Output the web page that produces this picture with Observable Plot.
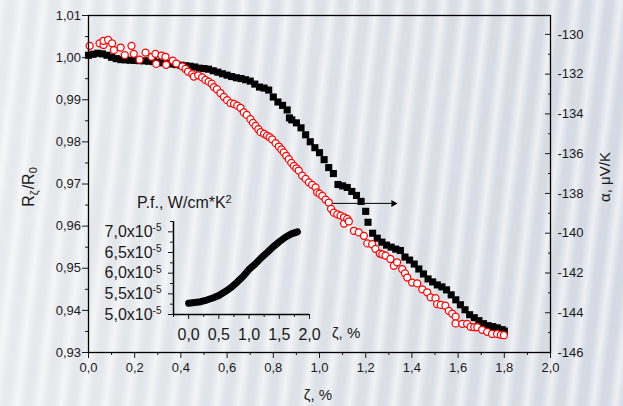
<!DOCTYPE html>
<html><head><meta charset="utf-8">
<script src="https://cdn.jsdelivr.net/npm/d3@7"></script>
<script src="https://cdn.jsdelivr.net/npm/@observablehq/plot@0.6"></script>
<style>
html,body{margin:0;padding:0;background:#fff;}
#chart{position:relative;width:623px;height:406px;overflow:hidden;
background:
 repeating-linear-gradient(97deg, rgba(255,255,255,0.6) 0px, rgba(255,255,255,0) 8px, rgba(255,255,255,0) 14px, rgba(255,255,255,0.6) 22px),
 linear-gradient(90deg,#e8eaee 0%, #dee2e8 45%, #d4d9e3 100%);}
#chart svg{position:absolute;left:0;top:0;}
</style></head><body><div id="chart"></div>
<script>
// R_zeta / R_0 (left axis, red open circles)
const zetaR = [0.005,0.048,0.065,0.065,0.085,0.102,0.110,0.139,0.157,0.186,0.196,0.221,0.247,0.273,0.290,0.293,0.316,0.333,0.336,0.365,0.380,0.406,0.420,0.431,0.449,0.456,0.475,0.492,0.506,0.520,0.533,0.543,0.556,0.571,0.586,0.600,0.615,0.630,0.644,0.658,0.672,0.685,0.701,0.712,0.723,0.735,0.745,0.760,0.773,0.784,0.795,0.810,0.824,0.835,0.845,0.856,0.867,0.878,0.889,0.900,0.910,0.925,0.940,0.954,0.968,0.983,0.990,1.000,1.012,1.026,1.040,1.050,1.062,1.077,1.091,1.106,1.106,1.120,1.127,1.149,1.170,1.192,1.207,1.228,1.242,1.261,1.272,1.286,1.307,1.322,1.336,1.358,1.370,1.380,1.401,1.423,1.445,1.466,1.481,1.502,1.509,1.525,1.545,1.560,1.575,1.589,1.589,1.618,1.639,1.654,1.670,1.683,1.704,1.726,1.747,1.769,1.785,1.798];
const ratioR = [1.0028,1.0034,1.0030,1.0040,1.0042,1.0034,1.0018,1.0024,1.0006,1.0028,1.0009,0.9995,1.0012,1.0002,1.0009,0.9985,1.0005,1.0002,0.9983,0.9993,0.9986,0.9979,0.9973,0.9967,0.9961,0.9955,0.9958,0.9953,0.9947,0.9943,0.9938,0.9930,0.9925,0.9916,0.9907,0.9899,0.9892,0.9890,0.9886,0.9881,0.9870,0.9864,0.9854,0.9845,0.9838,0.9830,0.9823,0.9819,0.9815,0.9811,0.9806,0.9797,0.9789,0.9782,0.9775,0.9767,0.9759,0.9750,0.9743,0.9737,0.9732,0.9720,0.9712,0.9704,0.9698,0.9692,0.9680,0.9677,0.9672,0.9663,0.9656,0.9641,0.9632,0.9628,0.9625,0.9621,0.9606,0.9617,0.9611,0.9589,0.9585,0.9577,0.9559,0.9557,0.9546,0.9535,0.9533,0.9530,0.9522,0.9506,0.9514,0.9498,0.9488,0.9478,0.9466,0.9464,0.9450,0.9443,0.9431,0.9429,0.9415,0.9413,0.9411,0.9399,0.9392,0.9385,0.9369,0.9368,0.9368,0.9361,0.9360,0.9360,0.9354,0.9349,0.9344,0.9344,0.9342,0.9341];

// alpha, uV/K (right axis, black squares)
const zetaA = [0.00,0.02,0.04,0.06,0.08,0.10,0.12,0.14,0.16,0.18,0.20,0.22,0.24,0.26,0.28,0.30,0.32,0.34,0.36,0.38,0.40,0.42,0.44,0.46,0.48,0.50,0.52,0.54,0.56,0.58,0.60,0.62,0.64,0.66,0.68,0.70,0.72,0.74,0.76,0.78,0.80,0.82,0.84,0.86,0.87,0.88,0.90,0.92,0.94,0.96,0.98,1.00,1.02,1.04,1.06,1.08,1.10,1.12,1.14,1.16,1.18,1.20,1.21,1.23,1.25,1.27,1.29,1.31,1.33,1.35,1.37,1.39,1.41,1.43,1.45,1.47,1.49,1.51,1.53,1.55,1.57,1.59,1.61,1.63,1.65,1.67,1.69,1.71,1.73,1.75,1.77,1.79,1.80];
const alpha = [-131.05,-131.00,-130.95,-130.98,-131.05,-131.15,-131.22,-131.27,-131.28,-131.30,-131.31,-131.32,-131.33,-131.35,-131.37,-131.40,-131.43,-131.46,-131.49,-131.52,-131.55,-131.58,-131.60,-131.64,-131.70,-131.72,-131.75,-131.83,-131.90,-131.98,-132.05,-132.12,-132.18,-132.22,-132.28,-132.35,-132.50,-132.65,-132.70,-132.80,-133.15,-133.40,-133.57,-133.80,-134.20,-134.30,-134.45,-134.70,-135.05,-135.40,-135.70,-135.95,-136.30,-136.70,-137.00,-137.55,-137.62,-137.70,-137.90,-138.10,-138.40,-138.90,-139.45,-140.00,-140.25,-140.45,-140.60,-140.70,-140.80,-140.87,-141.20,-141.35,-141.55,-141.80,-142.05,-142.30,-142.45,-142.60,-142.70,-142.85,-143.10,-143.35,-143.60,-143.85,-144.10,-144.25,-144.40,-144.55,-144.65,-144.70,-144.76,-144.85,-144.92];

// Inset: power factor, W/cm*K^2
const zetaPF = [0.0,0.1,0.2,0.3,0.4,0.5,0.6,0.7,0.8,0.9,1.0,1.1,1.2,1.3,1.4,1.5,1.6,1.7,1.8];
const pf = [5.27e-5,5.29e-5,5.31e-5,5.35e-5,5.40e-5,5.46e-5,5.55e-5,5.65e-5,5.78e-5,5.92e-5,6.09e-5,6.22e-5,6.37e-5,6.50e-5,6.64e-5,6.76e-5,6.87e-5,6.95e-5,7.00e-5];

// Arrow pointing to the right axis
const arrowFrom = {z: 1.03, a: -138.5};
const arrowTo = {z: 1.32, a: -138.5};

// Ticks
const xMajor = [0,0.2,0.4,0.6,0.8,1.0,1.2,1.4,1.6,1.8,2.0];
const xMinor = [0.1,0.3,0.5,0.7,0.9,1.1,1.3,1.5,1.7,1.9];
const leftMajor = [0.93,0.94,0.95,0.96,0.97,0.98,0.99,1.00,1.01];
const leftMinor = [0.935,0.945,0.955,0.965,0.975,0.985,0.995,1.005];
const rightMajor = [-146,-144,-142,-140,-138,-136,-134,-132,-130];
const rightMinor = [-145,-143,-141,-139,-137,-135,-133,-131];
const inXMajor = [0,0.5,1.0,1.5,2.0];
const inXMinor = [-0.25,0.25,0.75,1.25,1.75];
const inYMajor = [5.0e-5,5.5e-5,6.0e-5,6.5e-5,7.0e-5];
const inYMinor = [5.25e-5,5.75e-5,6.25e-5,6.75e-5,7.25e-5];
const inXDomain = [-0.25, 2.0];
const inYDomain = [5.0e-5, 7.25e-5];

const red = zetaR.map((z,i)=>({z, r: ratioR[i]}));
const blk = zetaA.map((z,i)=>({z, a: alpha[i]}));
const ins = zetaPF.map((z,i)=>({z, p: pf[i]}));

const W=623, H=406;
const M = {marginLeft:88, marginRight:73, marginTop:15, marginBottom:54};
const font = "'Liberation Sans', Arial, Helvetica, sans-serif";
const baseStyle = {background:"transparent", fontFamily:font, fontSize:"13px", color:"#1a1a1a", overflow:"visible"};
const comma = (d,n)=>d.toFixed(n).replace(".",",");

// Layer 1: alpha (right axis), black squares, arrow
const p1 = Plot.plot({
  width:W, height:H, ...M, style:baseStyle,
  x:{domain:[0,2], axis:null},
  y:{domain:[-146,-129.05]},
  marks:[
    Plot.axisY(rightMajor,{anchor:"right", tickSize:-6, tickPadding:13, tickFormat:d=>String(d), fontSize:13, label:null}),
    Plot.axisY(rightMinor,{anchor:"right", tickSize:-3, tickFormat:()=>"", label:null}),
    Plot.dot(blk,{x:"z", y:"a", symbol:"square", r:4, fill:"#000", stroke:"none"}),
    Plot.link([{}],{x1:()=>arrowFrom.z, y1:()=>arrowFrom.a, x2:()=>arrowTo.z, y2:()=>arrowTo.a, stroke:"#000", strokeWidth:1}),
    Plot.dot([arrowTo],{x:"z", y:"a", symbol:"triangle", rotate:90, r:2.6, fill:"#000", stroke:"none"})
  ]
});

// Layer 2: R/R0 (left axis), red circles, frame, x axis
const p2 = Plot.plot({
  width:W, height:H, ...M, style:baseStyle,
  x:{domain:[0,2]},
  y:{domain:[0.93,1.01]},
  marks:[
    Plot.axisY(leftMajor,{anchor:"left", tickSize:6, tickPadding:1.5, tickFormat:d=>comma(d,2), fontSize:13, label:null}),
    Plot.axisY(leftMinor,{anchor:"left", tickSize:3, tickFormat:()=>"", label:null}),
    Plot.axisX(xMajor,{anchor:"bottom", tickSize:6, tickPadding:4, tickFormat:d=>comma(d,1), fontSize:13, label:null}),
    Plot.axisX(xMinor,{anchor:"bottom", tickSize:3, tickFormat:()=>"", label:null}),
    Plot.dot(red,{x:"z", y:"r", r:3.5, fill:"#fff", stroke:"#ff0000", strokeWidth:1.25}),
    Plot.frame({stroke:"#000", strokeWidth:1.3})
  ]
});

// Layer 3: inset
const p3 = Plot.plot({
  width:W, height:H, marginLeft:173, marginRight:314, marginTop:221, marginBottom:92, style:{...baseStyle, fontSize:"16px"},
  x:{domain:inXDomain},
  y:{domain:inYDomain},
  marks:[
    Plot.axisY(inYMajor,{anchor:"left", tickSize:5, tickPadding:7, tickFormat:d=>comma(d*1e5,1)+"x10", fontSize:16, label:null}),
    Plot.axisY(inYMinor,{anchor:"left", tickSize:3, tickFormat:()=>"", label:null}),
    Plot.axisX(inXMajor,{anchor:"bottom", tickSize:5, tickPadding:9, tickFormat:d=>comma(d,1), fontSize:16, label:null}),
    Plot.axisX(inXMinor,{anchor:"bottom", tickSize:3, tickFormat:()=>"", label:null}),
    Plot.ruleX([inXDomain[0]],{stroke:"#000", strokeWidth:1.5}),
    Plot.ruleY([inYDomain[0]],{stroke:"#000", strokeWidth:1.5}),
    Plot.line(ins,{x:"z", y:"p", stroke:"#000", strokeWidth:7, curve:"linear"})
  ]
});

const root = document.getElementById("chart");
root.append(p1, p2, p3);

// superscript exponent on inset tick labels
d3.select(p3).selectAll("text").each(function(){
  const t = this.textContent;
  if (t.endsWith("x10")) {
    const s = d3.select(this);
    s.text(t);
    s.append("tspan").attr("dy","-0.55em").attr("font-size","10px").text("-5");
  }
});

// axis titles and inset title
const svg = d3.select(p3);
const g = svg.append("g").attr("font-family", font).attr("fill","#1a1a1a").attr("text-anchor","start");
const rl = g.append("text").attr("transform","translate(34,187) rotate(-90)").attr("text-anchor","middle").attr("font-size","16px");
rl.append("tspan").text("R");
rl.append("tspan").attr("font-size","11px").attr("dy","0.4em").text("ζ");
rl.append("tspan").attr("dy","-0.3em").attr("dx","1").text("/R");
rl.append("tspan").attr("font-size","11px").attr("dy","0.35em").text("0");
g.append("text").attr("transform","translate(610,177) rotate(-90)").attr("text-anchor","middle").attr("font-size","15px").text("α, μV/K");
g.append("text").attr("x",318).attr("y",400).attr("text-anchor","middle").attr("font-size","15px").text("ζ, %");
g.append("text").attr("x",332).attr("y",338).attr("font-size","15px").text("ζ, %");
const tt = g.append("text").attr("x",137).attr("y",208).attr("font-size","16px");
tt.append("tspan").text("P.f., W/cm*K");
tt.append("tspan").attr("dy","-0.5em").attr("font-size","11px").text("2");
</script></body></html>
